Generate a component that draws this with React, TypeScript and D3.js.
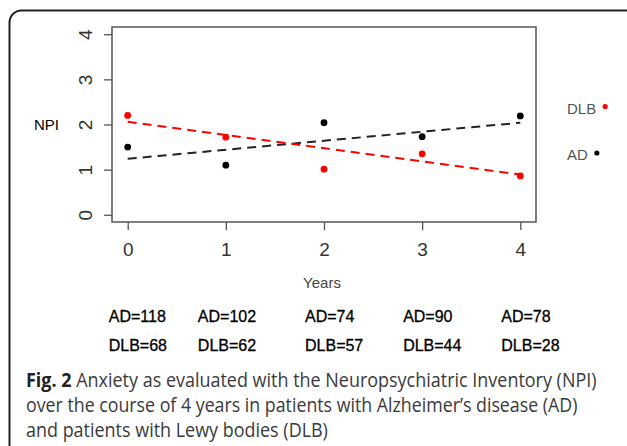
import React, { useRef, useEffect } from 'react';
import * as d3 from 'd3';

// values
const years = [0, 1, 2, 3, 4];
const yTicks = [0, 1, 2, 3, 4];
const adNpi = [1.5, 1.1, 2.04, 1.73, 2.19];
const dlbNpi = [2.2, 1.72, 1.01, 1.35, 0.86];
const trendYears = [0, 4];
const adTrend = [1.24, 2.04];
const dlbTrend = [2.06, 0.89];
const adCounts = [118, 102, 74, 90, 78];
const dlbCounts = [68, 62, 57, 44, 28];
const captionLines = [
	'Anxiety as evaluated with the Neuropsychiatric Inventory (NPI)',
	'over the course of 4 years in patients with Alzheimer\u2019s disease (AD)',
	'and patients with Lewy bodies (DLB)',
];

const W = 627;
const H = 446;
const ARIAL = '"Liberation Sans", Arial, sans-serif';

const App = () => {
	const svgRef = useRef<SVGSVGElement>(null);

	useEffect(() => {
		const svg = d3.select(svgRef.current);
		svg.selectAll('*').remove();

		// 1. scales (R style: 4% padding round the data range)
		const x = d3.scaleLinear().domain([-0.16, 4.16]).range([112, 536]);
		const y = d3.scaleLinear().domain([-0.16, 4.16]).range([222, 27]);

		// outer figure frame, running off the right and bottom edges
		svg.append('rect')
			.attr('x', 9.5).attr('y', 10.5)
			.attr('width', 640).attr('height', 500)
			.attr('rx', 12)
			.attr('fill', 'none')
			.attr('stroke', '#222')
			.attr('stroke-width', 2);

		// 2. axes
		const yAxis = svg.append('g')
			.attr('transform', 'translate(112,0)')
			.call(d3.axisLeft(y).tickValues(yTicks).tickSize(8).tickFormat(d3.format('d')));
		yAxis.select('.domain').remove();
		yAxis.selectAll('line').attr('stroke', '#555').attr('stroke-width', 1.3);
		yAxis.selectAll('text')
			.attr('transform', 'rotate(-90)')
			.attr('text-anchor', 'middle')
			.attr('x', 0)
			.attr('y', -20.5)
			.attr('dy', null)
			.attr('fill', '#333')
			.style('font-family', ARIAL)
			.style('font-size', '19px');

		const xAxis = svg.append('g')
			.attr('transform', 'translate(0,222)')
			.call(d3.axisBottom(x).tickValues(years).tickSize(8).tickFormat(d3.format('d')));
		xAxis.select('.domain').remove();
		xAxis.selectAll('line').attr('stroke', '#555').attr('stroke-width', 1.3);
		xAxis.selectAll('text')
			.attr('y', 34)
			.attr('dy', null)
			.attr('fill', '#333')
			.style('font-family', ARIAL)
			.style('font-size', '19px');

		// plot box
		svg.append('rect')
			.attr('x', 112).attr('y', 27)
			.attr('width', 424).attr('height', 195)
			.attr('fill', 'none')
			.attr('stroke', '#555')
			.attr('stroke-width', 1.5);

		// 3. trend lines
		const line = d3.line<number>()
			.x((d, i) => x(trendYears[i]))
			.y(d => y(d));

		svg.append('path')
			.attr('d', line(adTrend))
			.attr('fill', 'none')
			.attr('stroke', '#222')
			.attr('stroke-width', 2)
			.attr('stroke-dasharray', '9,6');

		svg.append('path')
			.attr('d', line(dlbTrend))
			.attr('fill', 'none')
			.attr('stroke', '#f00')
			.attr('stroke-width', 2)
			.attr('stroke-dasharray', '9,6');

		// 4. points
		svg.selectAll('.ad')
			.data(adNpi)
			.join('circle')
				.attr('class', 'ad')
				.attr('cx', (d, i) => x(years[i]))
				.attr('cy', d => y(d))
				.attr('r', 3.4)
				.attr('fill', '#000');

		svg.selectAll('.dlb')
			.data(dlbNpi)
			.join('circle')
				.attr('class', 'dlb')
				.attr('cx', (d, i) => x(years[i]))
				.attr('cy', d => y(d))
				.attr('r', 3.4)
				.attr('fill', '#f00');

		// axis titles
		svg.append('text')
			.attr('x', 34).attr('y', 129.5)
			.attr('fill', '#000')
			.style('font-family', ARIAL)
			.style('font-size', '15px')
			.text('NPI');

		svg.append('text')
			.attr('x', x(2) - 2).attr('y', 287.5)
			.attr('text-anchor', 'middle')
			.attr('fill', '#444')
			.style('font-family', ARIAL)
			.style('font-size', '15px')
			.text('Years');

		// legend
		const legend = [
			{ label: 'DLB', color: '#f00', y: 113.5 },
			{ label: 'AD', color: '#000', y: 160 },
		];
		legend.forEach(l => {
			const t = svg.append('text')
				.attr('x', 567).attr('y', l.y)
				.attr('fill', '#555')
				.style('font-family', ARIAL)
				.style('font-size', '15px')
				.text(l.label);
			const w = (t.node() as SVGTextElement).getComputedTextLength();
			svg.append('circle')
				.attr('cx', 567 + w + 9)
				.attr('cy', l.y - 7)
				.attr('r', 2.6)
				.attr('fill', l.color);
		});

		// patient counts under each year
		const nudge = [0, -9, 0, 0, 0];
		const counts = [
			{ prefix: 'AD=', values: adCounts, y: 321.5 },
			{ prefix: 'DLB=', values: dlbCounts, y: 350.5 },
		];
		counts.forEach(row => {
			svg.selectAll(null)
				.data(row.values)
				.join('text')
					.attr('x', (d, i) => x(years[i]) - 19 + nudge[i])
					.attr('y', row.y)
					.attr('fill', '#000')
					.attr('stroke', '#000')
					.attr('stroke-width', 0.3)
					.style('font-family', ARIAL)
					.style('font-size', '16px')
					.text(d => row.prefix + d);
		});

		// caption, squeezed to the widths of the narrow original face
		const capWidths = [571, 552, 302];
		const capBase = [386.7, 411.7, 436.7];
		captionLines.forEach((txt, i) => {
			const t = svg.append('text')
				.attr('x', 0).attr('y', 0)
				.attr('fill', '#3a3a3a')
				.style('font-family', '"Open Sans", sans-serif')
				.style('font-size', '20px');
			if (i === 0) {
				t.append('tspan').attr('font-weight', 'bold').attr('fill', '#222').text('Fig. 2 ');
			}
			t.append('tspan').text(txt);
			const w = (t.node() as SVGTextElement).getComputedTextLength();
			t.attr('transform', `translate(26,${capBase[i]}) scale(${capWidths[i] / w},1)`);
		});

	}, []);

	return (
		<svg
			ref={svgRef}
			width={W}
			height={H}
			style={{ position: 'absolute', left: 0, top: 0, background: '#fff' }}
		></svg>
	);
};

export default App;
